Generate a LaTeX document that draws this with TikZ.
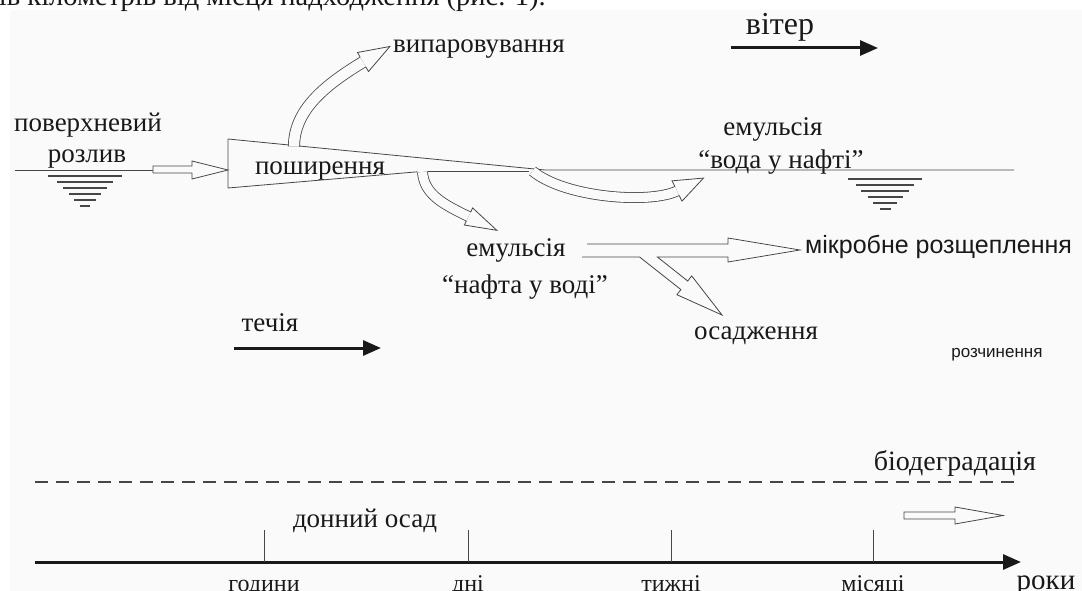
\documentclass[tikz,border=0pt]{standalone}
\usepackage{fontspec}
\setmainfont{Liberation Serif}
\setsansfont{Liberation Sans}
\usepackage{tikz}
\usetikzlibrary{arrows.meta}

\definecolor{figbg}{RGB}{250,250,250}
\definecolor{ink}{RGB}{25,25,25}
\definecolor{linec}{RGB}{70,70,70}

\begin{document}
\begin{tikzpicture}[x=1pt, y=-1pt,
        lbl/.style={text=ink, inner sep=0pt, anchor=base, font=\fontsize{27}{30}\selectfont},
        ticklbl/.style={lbl, font=\fontsize{24}{28}\selectfont},
        sanslbl/.style={lbl, font=\sffamily\fontsize{25}{28}\selectfont},
        oilline/.style={draw=linec, line width=0.8pt},
        fatshaft/.style={draw=linec, line width=0.8pt, double=figbg, double distance=#1},
        flowarrow/.style={draw=ink, line width=3pt, -{Triangle[length=18pt, width=15pt]}},
        waterlevel/.style={draw=linec, line width=1.2pt}]
        \useasboundingbox (0,0) rectangle (1082,591);
        \fill[figbg] (10,10) rectangle (1082,591); % figure background
        \node[lbl, anchor=base east, font=\fontsize{28.5}{32}\selectfont] (pagetext) at (546,6) {ів кілометрів від місця надходження (рис. 1).};

        % surface spill, left
        \node[lbl] (spill) at (88,132) {поверхневий};
        \node[lbl] (spill2) at (87,163) {розлив};
        \draw[oilline] (15,170) -- (153,170); % water line, left
        \foreach \dy/\hw in {0/37, 6/28, 12/22, 18/16, 24/11, 30/5}
            \draw[waterlevel] ({85-\hw},{176+\dy}) -- ({85+\hw},{176+\dy});
        \draw[oilline] (153,166) -- (192,166) -- (192,161) -- (228,170) -- (192,179) -- (192,173) -- (153,173) -- cycle;

        % spreading wedge
        \draw[oilline] (228,139) -- (228,188) -- (417.5,171.8); % left and bottom edge
        \draw[oilline] (228,139) -- (289,145); % top edge
        \draw[oilline] (299,146) -- (545,170) -- (1014,170); % top edge, water line right
        \draw[oilline] (427.5,171.6) -- (529,171.6); % bottom edge, thin part
        \node[lbl] (spread) at (320,175) {поширення};

        % evaporation
        \draw[fatshaft=10.4pt] (294,146.5) .. controls (294,110) and (325,85) .. (363,62);
        \begin{scope}[shift={(363,62)}, rotate=30]
            \draw[oilline] (0,6) -- (0,11) -- (31,0) -- (0,-11) -- (0,-6);
        \end{scope}
        \node[lbl, anchor=base west] (evap) at (393,53) {випаровування};

        % water in oil
        \draw[fatshaft=9.2pt] (532.5,171) .. controls (565,198) and (650,204) .. (677,191);
        \begin{scope}[shift={(677,191)}, rotate=26]
            \draw[oilline] (0,5) -- (0,11.3) -- (29.5,0) -- (0,-11.3) -- (0,-5);
        \end{scope}
        \node[lbl] (wio) at (773,136) {емульсія};
        \node[lbl] (wio2) at (781,168) {“вода у нафті”};
        \foreach \dy/\hw in {0/37, 6/29, 12/24, 18/17.5, 24/12, 30/5.5}
            \draw[waterlevel] ({885-\hw},{179+\dy}) -- ({885+\hw},{179+\dy});

        % wind
        \node[lbl, font=\fontsize{32}{36}\selectfont] (wind) at (780,35) {вітер};
        \coordinate (windS) at (731,48);
        \coordinate (windE) at (878,48);
        \draw[flowarrow] (windS) -- (windE);

        % oil in water
        \draw[fatshaft=9.2pt] (422.5,172) .. controls (424,195) and (445,205) .. (468.5,216.5);
        \begin{scope}[shift={(468.5,216.5)}, rotate=-26]
            \draw[oilline] (0,5) -- (0,9.5) -- (31.5,0) -- (0,-9.5) -- (0,-5);
        \end{scope}
        \node[lbl] (oiw) at (516,256) {емульсія};
        \node[lbl] (oiw2) at (525,293) {“нафта у воді”};

        % microbial split and settling
        \draw[oilline] (587,244) -- (728,244) -- (728,238) -- (800,250) -- (728,262) -- (728,257) -- (657.4,257)
            -- (687.7,281.0) -- (691.7,275.9) -- (722,315) -- (676.9,294.7) -- (680.9,289.6) -- (639.6,257) -- (582,257);
        \node[sanslbl, anchor=base west] (micro) at (805,253) {мікробне розщеплення};
        \node[sanslbl, font=\sffamily\fontsize{17}{19}\selectfont] (dissolve) at (997,357) {розчинення};
        \node[lbl] (settle) at (756,339) {осадження};

        % current
        \node[lbl] (current) at (270,331) {течія};
        \coordinate (curS) at (234,348);
        \coordinate (curE) at (381,348);
        \draw[flowarrow] (curS) -- (curE);

        % biodegradation
        \draw[linec, line width=1.2pt, dash pattern=on 13pt off 8pt] (35,482) -- (1020,482);
        \node[lbl, font=\fontsize{28}{32}\selectfont] (biodeg) at (955,470) {біодеградація};
        \draw[oilline] (904,512) -- (955,512) -- (955,507) -- (1003,515.5) -- (955,524) -- (955,519) -- (904,519) -- cycle;

        % time axis
        \node[lbl] (sediment) at (365,527) {донний осад};
        \coordinate (axS) at (35,562);
        \coordinate (axE) at (1021,562);
        \draw[flowarrow] (axS) -- (axE);
        \foreach \tx/\tl in {264/години, 468/дні, 671/тижні, 873/місяці} {
            \draw[linec, line width=1pt] (\tx,530) -- (\tx,562);
            \node[ticklbl] (tick\tx) at (\tx,591) {\tl};
        }
        \node[lbl, font=\fontsize{29}{32}\selectfont] (years) at (1046,589) {роки};
\end{tikzpicture}
\end{document}
